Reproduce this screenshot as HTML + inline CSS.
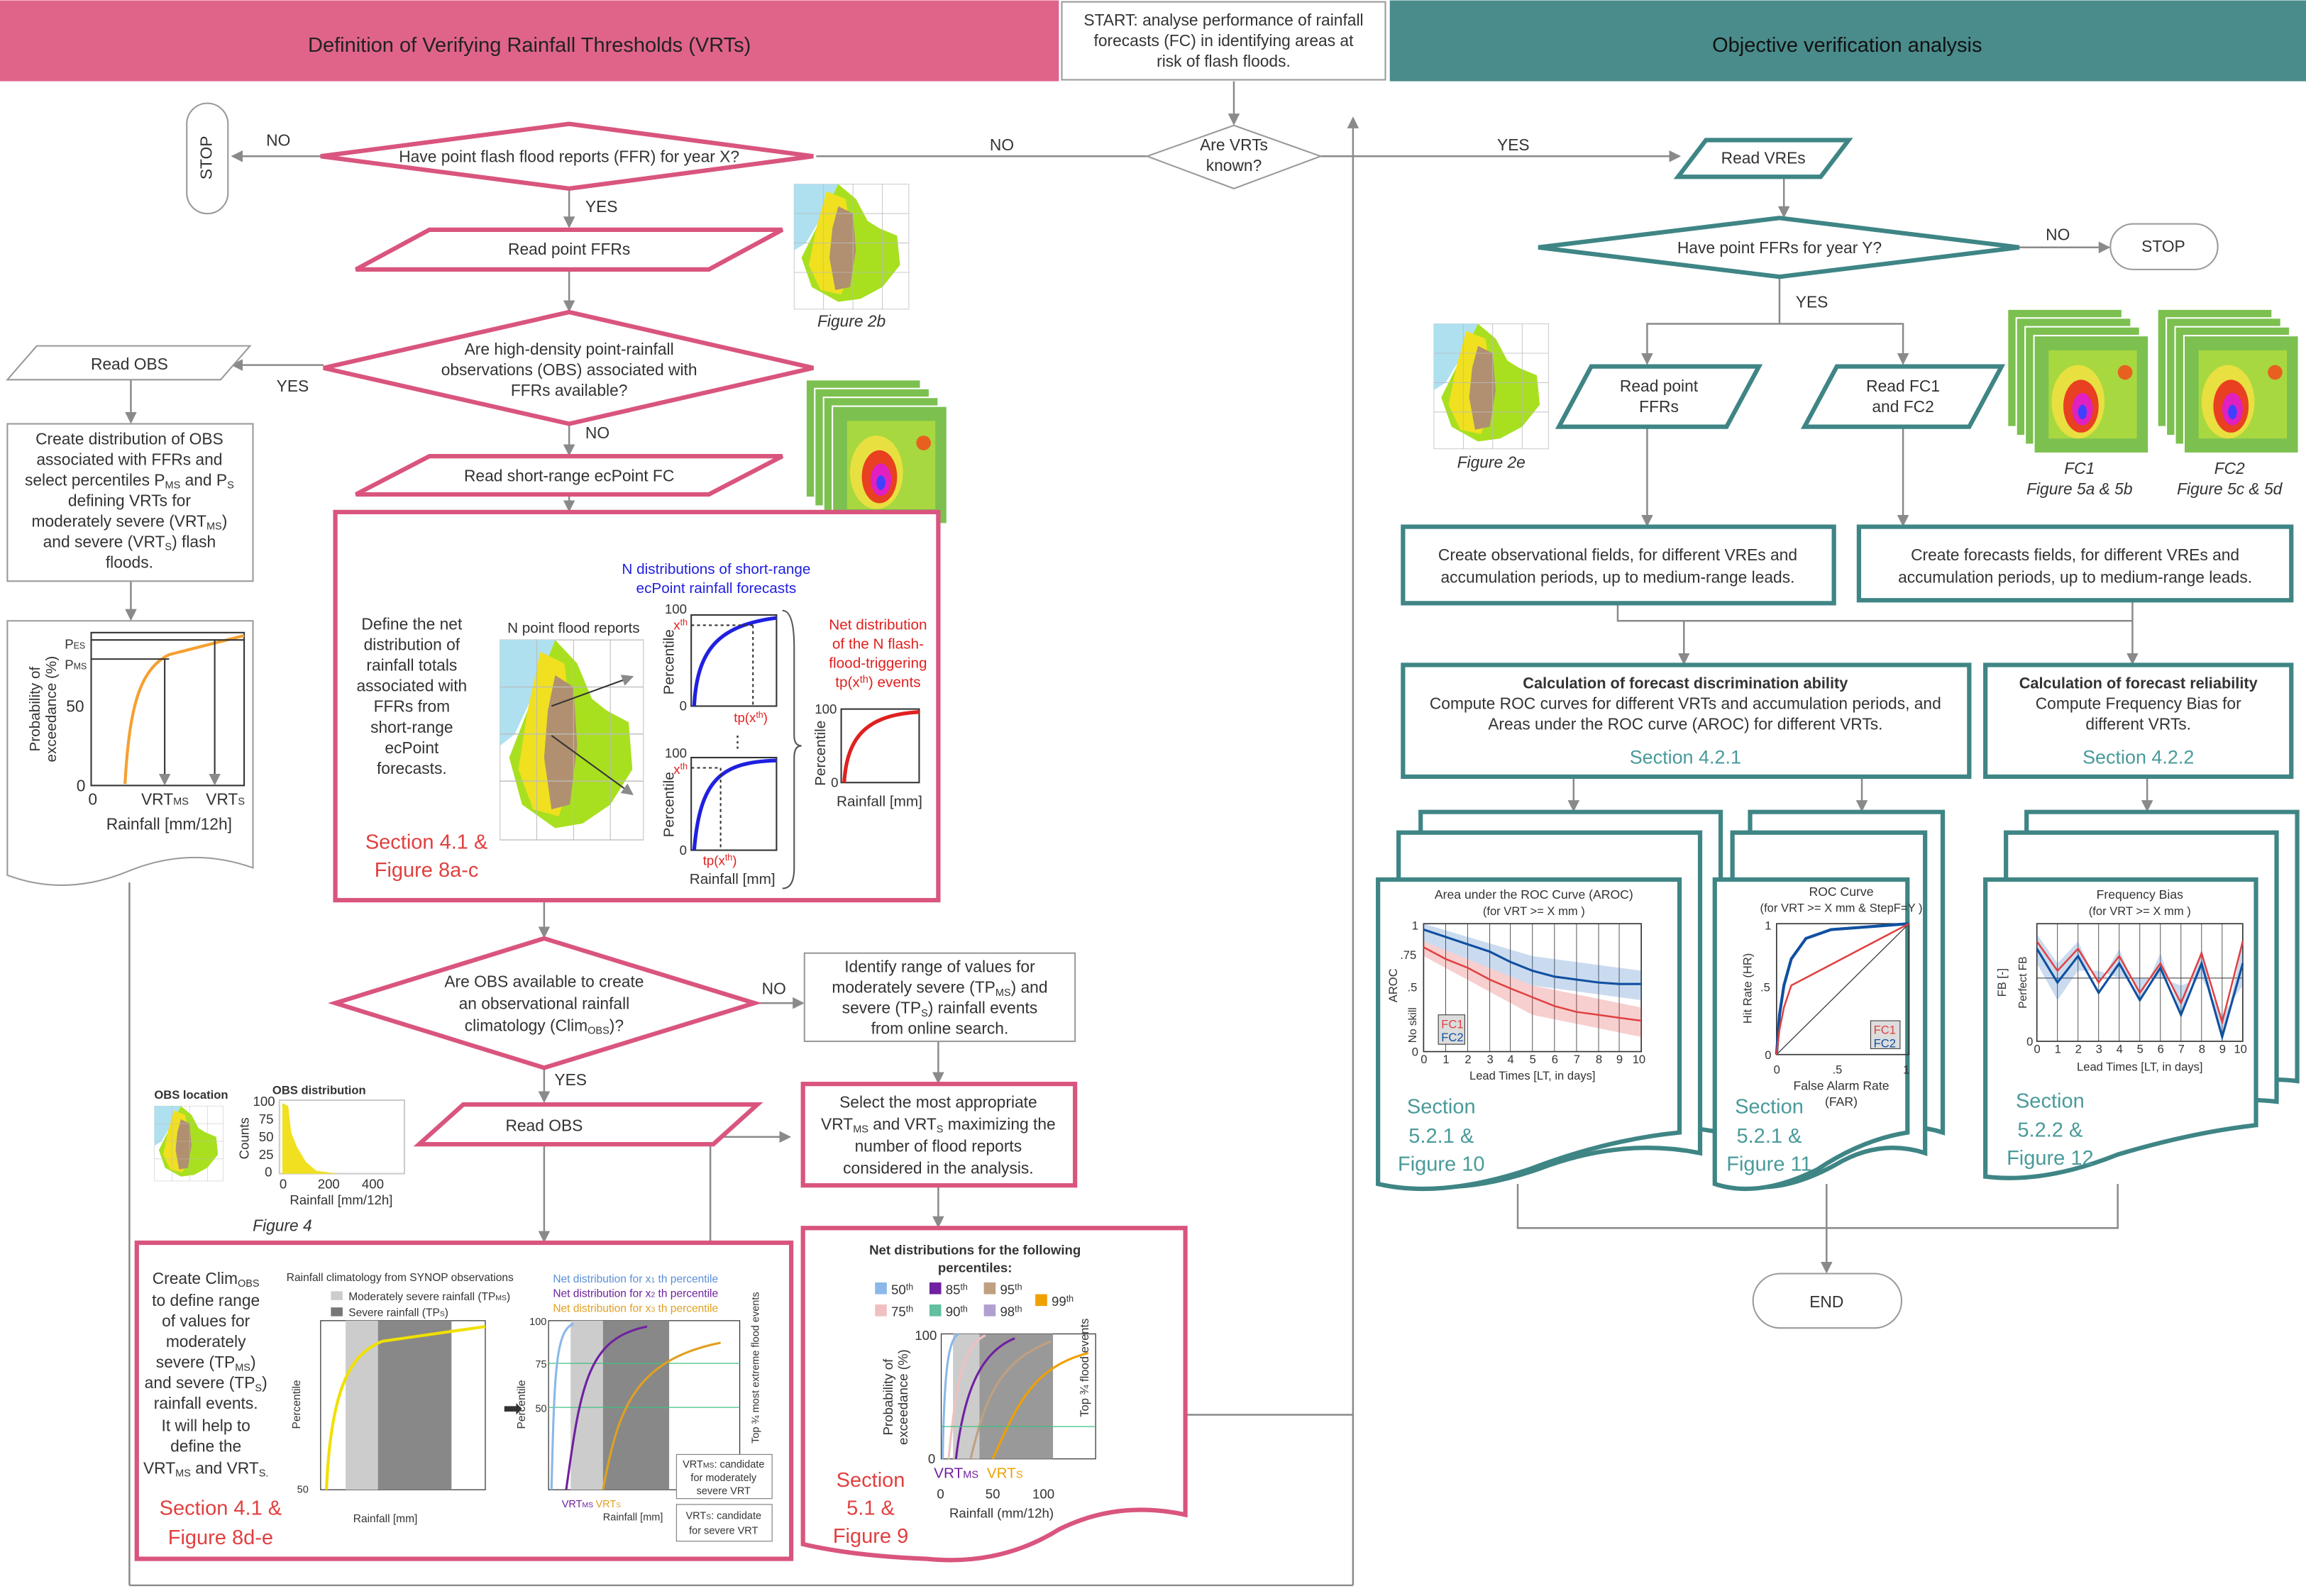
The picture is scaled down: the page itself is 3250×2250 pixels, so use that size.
<!DOCTYPE html>
<html><head><meta charset="utf-8"><style>
html,body{margin:0;padding:0;background:#fff;}
svg{display:block;font-family:"Liberation Sans",sans-serif;font-size:11px;}
</style></head><body>
<svg width="3250" height="2250" viewBox="0 0 1568 1085" xmlns="http://www.w3.org/2000/svg" font-size="11">
<defs>
<marker id="a" markerWidth="8" markerHeight="8" refX="7" refY="4" orient="auto" markerUnits="userSpaceOnUse"><path d="M0,0 L8,4 L0,8 z" fill="#8a8a8a"/></marker>
<g id="map">
<rect width="78" height="85" fill="#fff" stroke="#ccc" stroke-width="0.5"/>
<path d="M0,0 H30 L20,20 L8,40 L0,45 Z" fill="#aee0f0"/>
<path d="M30,0 L42,10 L50,25 L58,30 L70,35 L72,55 L60,70 L45,78 L30,80 L12,70 L5,50 L15,30 Z" fill="#a8e020"/>
<path d="M22,5 L35,10 L38,30 L40,55 L32,75 L18,72 L10,55 L15,30 Z" fill="#f0e020"/>
<path d="M30,15 L40,20 L42,45 L38,70 L28,72 L24,50 L26,30 Z" fill="#b09070"/>
<path d="M0,20 H78 M0,40 H78 M0,60 H78 M20,0 V85 M40,0 V85 M60,0 V85" stroke="#bbb" stroke-width="0.4"/>
</g>
<g id="fc">
<rect width="78" height="80" fill="#7cc050" stroke="#fff" stroke-width="1"/>
<rect x="10" y="10" width="60" height="60" fill="#a8d840"/>
<ellipse cx="30" cy="45" rx="18" ry="25" fill="#e8e040"/>
<ellipse cx="32" cy="48" rx="12" ry="18" fill="#e84020"/>
<ellipse cx="33" cy="50" rx="7" ry="11" fill="#e020c0"/>
<ellipse cx="33" cy="52" rx="3" ry="5" fill="#4040ff"/>
<circle cx="62" cy="25" r="5" fill="#e86020"/>
</g>
<g id="fcs">
<use href="#fc" x="0" y="0"/><use href="#fc" x="6" y="6"/><use href="#fc" x="12" y="12"/><use href="#fc" x="18" y="18"/>
</g>
</defs>
<style>
.t{fill:#333;}
.pk{fill:#fff;stroke:#d9557e;stroke-width:3;}
.tl{fill:#fff;stroke:#3f8585;stroke-width:3;}
.ln{stroke:#8a8a8a;stroke-width:1.2;fill:none;}
.gr{fill:#fff;stroke:#999;stroke-width:1;}
.c{text-anchor:middle;}
.red{fill:#e04040;}
.teal{fill:#4a9a9a;}
</style>

<!-- Header -->
<rect x="0" y="0" width="720" height="55" fill="#e0648a"/>
<text x="360" y="35" class="c" font-size="14" fill="#222">Definition of Verifying Rainfall Thresholds (VRTs)</text>
<rect x="722" y="1" width="220" height="53" class="gr"/>
<text class="t c" x="832" y="17">START: analyse performance of rainfall</text>
<text class="t c" x="832" y="31">forecasts (FC) in identifying areas at</text>
<text class="t c" x="832" y="45">risk of flash floods.</text>
<rect x="945" y="0" width="623" height="55" fill="#4a8b8b"/>
<text x="1256" y="35" class="c" font-size="14" fill="#111">Objective verification analysis</text>

<!-- Connectors -->
<line class="ln" x1="839" y1="55" x2="839" y2="84" marker-end="url(#a)"/>
<line class="ln" x1="780" y1="106" x2="555" y2="106"/>
<text class="t" x="673" y="102">NO</text>
<line class="ln" x1="218" y1="106" x2="158" y2="106" marker-end="url(#a)"/>
<text class="t" x="181" y="99">NO</text>
<line class="ln" x1="898" y1="106" x2="1142" y2="106" marker-end="url(#a)"/>
<text class="t" x="1018" y="102">YES</text>
<line class="ln" x1="920" y1="1078" x2="920" y2="80" marker-end="url(#a)"/>
<line class="ln" x1="806" y1="962" x2="920" y2="962"/>
<line class="ln" x1="88" y1="600" x2="88" y2="1078"/>
<line class="ln" x1="88" y1="1078" x2="920" y2="1078"/>
<line class="ln" x1="387" y1="128" x2="387" y2="154" marker-end="url(#a)"/>
<text class="t" x="398" y="144">YES</text>
<line class="ln" x1="387" y1="183" x2="387" y2="211" marker-end="url(#a)"/>
<line class="ln" x1="220" y1="248" x2="158" y2="248" marker-end="url(#a)"/>
<text class="t" x="188" y="266">YES</text>
<line class="ln" x1="387" y1="288" x2="387" y2="309" marker-end="url(#a)"/>
<text class="t" x="398" y="298">NO</text>
<line class="ln" x1="387" y1="336" x2="387" y2="347" marker-end="url(#a)"/>
<line class="ln" x1="89" y1="258" x2="89" y2="287" marker-end="url(#a)"/>
<line class="ln" x1="89" y1="395" x2="89" y2="421" marker-end="url(#a)"/>
<line class="ln" x1="370" y1="612" x2="370" y2="637" marker-end="url(#a)"/>
<line class="ln" x1="513" y1="682" x2="546" y2="682" marker-end="url(#a)"/>
<text class="t" x="518" y="676">NO</text>
<line class="ln" x1="370" y1="726" x2="370" y2="749" marker-end="url(#a)"/>
<text class="t" x="377" y="738">YES</text>
<line class="ln" x1="370" y1="778" x2="370" y2="844" marker-end="url(#a)"/>
<polyline class="ln" points="483,845 483,773 537,773" marker-end="url(#a)"/>
<line class="ln" x1="638" y1="708" x2="638" y2="736" marker-end="url(#a)"/>
<line class="ln" x1="638" y1="806" x2="638" y2="834" marker-end="url(#a)"/>

<line class="ln" x1="1213" y1="120" x2="1213" y2="147" marker-end="url(#a)"/>
<line class="ln" x1="1373" y1="168" x2="1434" y2="168" marker-end="url(#a)"/>
<text class="t" x="1391" y="163">NO</text>
<line class="ln" x1="1210" y1="188" x2="1210" y2="220"/>
<text class="t" x="1221" y="209">YES</text>
<polyline class="ln" points="1120,247 1120,220 1294,220 1294,247"/>
<line class="ln" x1="1120" y1="240" x2="1120" y2="247" marker-end="url(#a)"/>
<line class="ln" x1="1294" y1="240" x2="1294" y2="247" marker-end="url(#a)"/>
<line class="ln" x1="1120" y1="290" x2="1120" y2="357" marker-end="url(#a)"/>
<line class="ln" x1="1294" y1="290" x2="1294" y2="357" marker-end="url(#a)"/>
<polyline class="ln" points="1100,410 1100,422 1450,422"/>
<line class="ln" x1="1450" y1="408" x2="1450" y2="422"/>
<line class="ln" x1="1145" y1="422" x2="1145" y2="451" marker-end="url(#a)"/>
<line class="ln" x1="1450" y1="422" x2="1450" y2="451" marker-end="url(#a)"/>
<line class="ln" x1="1070" y1="528" x2="1070" y2="551" marker-end="url(#a)"/>
<line class="ln" x1="1266" y1="528" x2="1266" y2="551" marker-end="url(#a)"/>
<line class="ln" x1="1460" y1="528" x2="1460" y2="551" marker-end="url(#a)"/>
<polyline class="ln" points="1032,805 1032,835 1440,835 1440,805"/>
<line class="ln" x1="1242" y1="805" x2="1242" y2="865" marker-end="url(#a)"/>

<!-- Left decisions -->
<rect x="127" y="70" width="28" height="75" rx="14" class="gr"/>
<text class="t c" transform="translate(144,107) rotate(-90)">STOP</text>
<polygon class="pk" points="218,106 387,84 553,106 387,128"/>
<text class="t c" x="387" y="110">Have point flash flood reports (FFR) for year X?</text>
<polygon class="pk" points="242,183 292,156 532,156 482,183"/>
<text class="t c" x="387" y="173">Read point FFRs</text>
<use href="#map" x="540" y="125"/>
<text class="t c" x="579" y="222" font-style="italic">Figure 2b</text>
<polygon class="pk" points="220,250 387,212 553,250 387,288"/>
<text class="t c" x="387" y="241">Are high-density point-rainfall</text>
<text class="t c" x="387" y="255">observations (OBS) associated with</text>
<text class="t c" x="387" y="269">FFRs available?</text>
<polygon class="gr" points="5,258 25,235 170,235 150,258"/>
<text class="t c" x="88" y="251">Read OBS</text>
<polygon class="pk" points="242,336 292,310 532,310 482,336"/>
<text class="t c" x="387" y="327">Read short-range ecPoint FC</text>
<use href="#fcs" x="548" y="258"/>
<text class="t c" x="603" y="368" font-style="italic">Figure 5c &amp; 5d</text>

<rect x="5" y="288" width="167" height="107" class="gr"/>
<text class="t c" x="88" y="302">Create distribution of OBS</text>
<text class="t c" x="88" y="316">associated with FFRs and</text>
<text class="t c" x="88" y="330">select percentiles P<tspan font-size="7" dy="2">MS</tspan><tspan dy="-2"> and P</tspan><tspan font-size="7" dy="2">S</tspan></text>
<text class="t c" x="88" y="344">defining VRTs for</text>
<text class="t c" x="88" y="358">moderately severe (VRT<tspan font-size="7" dy="2">MS</tspan><tspan dy="-2">)</tspan></text>
<text class="t c" x="88" y="372">and severe (VRT<tspan font-size="7" dy="2">S</tspan><tspan dy="-2">) flash</tspan></text>
<text class="t c" x="88" y="386">floods.</text>

<path class="gr" d="M5,422 H172 V590 Q130,575 88,592 Q45,610 5,595 Z"/>
<rect x="62" y="430" width="104" height="104" fill="none" stroke="#333"/>
<path d="M85,533 C88,480 95,455 115,445 L166,432" stroke="#f5a030" stroke-width="2" fill="none"/>
<polyline points="62,435 166,435" stroke="#333"/>
<line x1="62" y1="448" x2="115" y2="448" stroke="#333"/>
<line x1="112" y1="448" x2="112" y2="533" stroke="#333" marker-end="url(#a)"/>
<line x1="146" y1="435" x2="146" y2="533" stroke="#333" marker-end="url(#a)"/>
<text class="t" x="44" y="441" font-size="9">P<tspan font-size="6">ES</tspan></text>
<text class="t" x="44" y="455" font-size="9">P<tspan font-size="6">MS</tspan></text>
<text class="t" x="45" y="484">50</text>
<text class="t" x="52" y="538">0</text>
<text class="t" x="60" y="547">0</text>
<text class="t" x="96" y="547">VRT<tspan font-size="7">MS</tspan></text>
<text class="t" x="140" y="547">VRT<tspan font-size="7">S</tspan></text>
<text class="t c" x="115" y="564">Rainfall [mm/12h]</text>
<text class="t c" transform="translate(27,482) rotate(-90)" font-size="10">Probability of</text>
<text class="t c" transform="translate(38,482) rotate(-90)" font-size="10">exceedance (%)</text>

<!-- big pink box -->
<rect x="228" y="348" width="410" height="264" class="pk"/>
<text class="t c" x="280" y="428">Define the net</text>
<text class="t c" x="280" y="442">distribution of</text>
<text class="t c" x="280" y="456">rainfall totals</text>
<text class="t c" x="280" y="470">associated with</text>
<text class="t c" x="280" y="484">FFRs from</text>
<text class="t c" x="280" y="498">short-range</text>
<text class="t c" x="280" y="512">ecPoint</text>
<text class="t c" x="280" y="526">forecasts.</text>
<text x="290" y="577" class="c red" font-size="14">Section 4.1 &amp;</text>
<text x="290" y="596" class="c red" font-size="14">Figure 8a-c</text>
<text class="t c" x="390" y="430" font-size="10">N point flood reports</text>
<use href="#map" transform="translate(340,435) scale(1.25,1.6)"/>
<line x1="375" y1="480" x2="430" y2="460" stroke="#333" marker-end="url(#a)"/>
<line x1="375" y1="500" x2="430" y2="540" stroke="#333" marker-end="url(#a)"/>
<text x="487" y="390" class="c" font-size="10" fill="#2020e0">N distributions of short-range</text>
<text x="487" y="403" class="c" font-size="10" fill="#2020e0">ecPoint rainfall forecasts</text>
<rect x="470" y="418" width="58" height="62" fill="none" stroke="#333"/>
<path d="M472,480 C474,440 490,425 528,420" stroke="#2020e0" stroke-width="2.5" fill="none"/>
<line x1="470" y1="425" x2="512" y2="425" stroke="#333" stroke-dasharray="2,2"/>
<line x1="512" y1="425" x2="512" y2="480" stroke="#333" stroke-dasharray="2,2"/>
<text x="458" y="428" font-size="9" fill="#e02020">x<tspan font-size="6" dy="-3">th</tspan></text>
<text class="t" x="452" y="417" font-size="9">100</text>
<text class="t" x="462" y="483" font-size="9">0</text>
<text x="499" y="491" font-size="9" fill="#e02020">tp(x<tspan font-size="6" dy="-3">th</tspan><tspan dy="3">)</tspan></text>
<text class="t c" transform="translate(458,450) rotate(-90)" font-size="10">Percentile</text>
<text class="t" x="496" y="508">⋮</text>
<rect x="470" y="515" width="58" height="63" fill="none" stroke="#333"/>
<path d="M472,578 C476,530 490,518 528,517" stroke="#2020e0" stroke-width="2.5" fill="none"/>
<line x1="470" y1="522" x2="490" y2="522" stroke="#333" stroke-dasharray="2,2"/>
<line x1="490" y1="522" x2="490" y2="578" stroke="#333" stroke-dasharray="2,2"/>
<text x="458" y="526" font-size="9" fill="#e02020">x<tspan font-size="6" dy="-3">th</tspan></text>
<text class="t" x="452" y="515" font-size="9">100</text>
<text class="t" x="462" y="581" font-size="9">0</text>
<text x="478" y="588" font-size="9" fill="#e02020">tp(x<tspan font-size="6" dy="-3">th</tspan><tspan dy="3">)</tspan></text>
<text class="t c" transform="translate(458,547) rotate(-90)" font-size="10">Percentile</text>
<text class="t c" x="498" y="601" font-size="10">Rainfall [mm]</text>
<path d="M532,415 Q540,415 540,440 V500 Q540,507 545,507 Q540,507 540,515 V590 Q540,604 532,604" stroke="#555" fill="none"/>
<text x="597" y="428" class="c" font-size="10" fill="#e02020">Net distribution</text>
<text x="597" y="441" class="c" font-size="10" fill="#e02020">of the N flash-</text>
<text x="597" y="454" class="c" font-size="10" fill="#e02020">flood-triggering</text>
<text x="597" y="467" class="c" font-size="10" fill="#e02020">tp(x<tspan font-size="7" dy="-3">th</tspan><tspan dy="3">) events</tspan></text>
<rect x="572" y="482" width="53" height="50" fill="none" stroke="#333"/>
<path d="M574,532 C576,500 590,486 625,484" stroke="#e02020" stroke-width="2.5" fill="none"/>
<text class="t" x="554" y="485" font-size="9">100</text>
<text class="t" x="565" y="535" font-size="9">0</text>
<text class="t c" transform="translate(561,512) rotate(-90)" font-size="10">Percentile</text>
<text class="t c" x="598" y="548" font-size="10">Rainfall [mm]</text>

<polygon class="pk" points="228,682 370,638 513,682 370,726"/>
<text class="t c" x="370" y="671">Are OBS available to create</text>
<text class="t c" x="370" y="686">an observational rainfall</text>
<text class="t c" x="370" y="701">climatology (Clim<tspan font-size="7" dy="2">OBS</tspan><tspan dy="-2">)?</tspan></text>
<rect x="547" y="648" width="184" height="60" class="gr"/>
<text class="t c" x="639" y="661">Identify range of values for</text>
<text class="t c" x="639" y="675">moderately severe (TP<tspan font-size="7" dy="2">MS</tspan><tspan dy="-2">) and</tspan></text>
<text class="t c" x="639" y="689">severe (TP<tspan font-size="7" dy="2">S</tspan><tspan dy="-2">) rainfall events</tspan></text>
<text class="t c" x="639" y="703">from online search.</text>
<polygon class="pk" points="285,778 315,751 515,751 485,778"/>
<text class="t c" x="370" y="769">Read OBS</text>
<rect x="546" y="737" width="185" height="69" class="pk"/>
<text class="t c" x="638" y="753">Select the most appropriate</text>
<text class="t c" x="638" y="768">VRT<tspan font-size="7" dy="2">MS</tspan><tspan dy="-2"> and VRT</tspan><tspan font-size="7" dy="2">S</tspan><tspan dy="-2"> maximizing the</tspan></text>
<text class="t c" x="638" y="783">number of flood reports</text>
<text class="t c" x="638" y="798">considered in the analysis.</text>

<!-- OBS figure -->
<text class="t c" x="130" y="747" font-size="8" font-weight="bold">OBS location</text>
<use href="#map" transform="translate(105,752) scale(0.6,0.6)"/>
<text class="t c" x="217" y="744" font-size="8" font-weight="bold">OBS distribution</text>
<rect x="190" y="748" width="85" height="50" fill="none" stroke="#ccc"/>
<path d="M192,798 V750 L196,752 L198,770 L202,780 L208,790 L215,796 L230,798 Z" fill="#f0e020"/>
<text class="t" x="172" y="752" font-size="9">100</text>
<text class="t" x="176" y="764" font-size="9">75</text>
<text class="t" x="176" y="776" font-size="9">50</text>
<text class="t" x="176" y="788" font-size="9">25</text>
<text class="t" x="180" y="800" font-size="9">0</text>
<text class="t" x="190" y="808" font-size="9">0</text>
<text class="t" x="216" y="808" font-size="9">200</text>
<text class="t" x="246" y="808" font-size="9">400</text>
<text class="t c" x="232" y="819" font-size="9">Rainfall [mm/12h]</text>
<text class="t c" transform="translate(169,774) rotate(-90)" font-size="9">Counts</text>
<text class="t c" x="192" y="837" font-style="italic">Figure 4</text>

<!-- bottom left box -->
<rect x="93" y="845" width="445" height="215" class="pk"/>
<text class="t c" x="140" y="873">Create Clim<tspan font-size="7" dy="2">OBS</tspan></text>
<text class="t c" x="140" y="888">to define range</text>
<text class="t c" x="140" y="902">of values for</text>
<text class="t c" x="140" y="916">moderately</text>
<text class="t c" x="140" y="930">severe (TP<tspan font-size="7" dy="2">MS</tspan><tspan dy="-2">)</tspan></text>
<text class="t c" x="140" y="944">and severe (TP<tspan font-size="7" dy="2">S</tspan><tspan dy="-2">)</tspan></text>
<text class="t c" x="140" y="958">rainfall events.</text>
<text class="t c" x="140" y="973">It will help to</text>
<text class="t c" x="140" y="987">define the</text>
<text class="t c" x="140" y="1002">VRT<tspan font-size="7" dy="2">MS</tspan><tspan dy="-2"> and VRT</tspan><tspan font-size="7" dy="2">S.</tspan></text>
<text x="150" y="1030" class="c red" font-size="14">Section 4.1 &amp;</text>
<text x="150" y="1050" class="c red" font-size="14">Figure 8d-e</text>
<text class="t c" x="272" y="871" font-size="7.5">Rainfall climatology from SYNOP observations</text>
<rect x="225" y="878" width="8" height="6" fill="#ccc"/><text class="t" x="237" y="884" font-size="7.5">Moderately severe rainfall (TP<tspan font-size="5">MS</tspan>)</text>
<rect x="225" y="889" width="8" height="6" fill="#777"/><text class="t" x="237" y="895" font-size="7.5">Severe rainfall (TP<tspan font-size="5">S</tspan>)</text>
<rect x="218" y="898" width="112" height="115" fill="none" stroke="#333" stroke-width="0.6"/>
<rect x="235" y="898" width="22" height="115" fill="#ccc"/>
<rect x="257" y="898" width="50" height="115" fill="#888"/>
<path d="M222,1013 C225,940 240,920 260,912 L330,902" stroke="#f0e000" stroke-width="2" fill="none"/>
<text class="t" x="202" y="1015" font-size="7">50</text>
<text class="t c" x="262" y="1035" font-size="7.5">Rainfall [mm]</text>
<text class="t c" transform="translate(204,955) rotate(-90)" font-size="7.5">Percentile</text>
<text x="342" y="963" font-size="16" fill="#333">➡</text>
<text x="376" y="872" font-size="7.5" fill="#5b8fd8">Net distribution for x<tspan font-size="5">1</tspan> th percentile</text>
<text x="376" y="882" font-size="7.5" fill="#7020a0">Net distribution for x<tspan font-size="5">2</tspan> th percentile</text>
<text x="376" y="892" font-size="7.5" fill="#e0a020">Net distribution for x<tspan font-size="5">3</tspan> th percentile</text>
<rect x="373" y="898" width="130" height="115" fill="none" stroke="#333" stroke-width="0.6"/>
<rect x="388" y="898" width="22" height="115" fill="#ccc"/>
<rect x="410" y="898" width="45" height="115" fill="#888"/>
<line x1="373" y1="927" x2="503" y2="927" stroke="#40c080" stroke-width="0.6"/>
<line x1="373" y1="957" x2="503" y2="957" stroke="#40c080" stroke-width="0.6"/>
<path d="M375,1013 C377,930 378,905 390,900" stroke="#8ab8e8" stroke-width="1.5" fill="none"/>
<path d="M385,1013 C395,940 400,910 440,902" stroke="#7020a0" stroke-width="1.5" fill="none"/>
<path d="M410,1013 C420,960 430,925 490,913" stroke="#e0a020" stroke-width="1.5" fill="none"/>
<text class="t" x="360" y="901" font-size="7">100</text>
<text class="t" x="364" y="930" font-size="7">75</text>
<text class="t" x="364" y="960" font-size="7">50</text>
<text class="t c" transform="translate(357,955) rotate(-90)" font-size="7.5">Percentile</text>
<text class="t c" transform="translate(516,930) rotate(-90)" font-size="7">Top ¾ most extreme flood events</text>
<rect x="460" y="989" width="65" height="30" fill="#fff" stroke="#888" stroke-width="0.6"/>
<text class="t c" x="492" y="998" font-size="7">VRT<tspan font-size="5">MS</tspan>: candidate</text>
<text class="t c" x="492" y="1007" font-size="7">for moderately</text>
<text class="t c" x="492" y="1016" font-size="7">severe VRT</text>
<rect x="460" y="1023" width="65" height="25" fill="#fff" stroke="#888" stroke-width="0.6"/>
<text class="t c" x="492" y="1033" font-size="7">VRT<tspan font-size="5">S</tspan>: candidate</text>
<text class="t c" x="492" y="1043" font-size="7">for severe VRT</text>
<text x="382" y="1025" font-size="7" fill="#7020a0">VRT<tspan font-size="5">MS</tspan></text>
<text x="405" y="1025" font-size="7" fill="#e0a020">VRT<tspan font-size="5">S</tspan></text>
<text class="t" x="410" y="1034" font-size="7">Rainfall [mm]</text>

<!-- net distributions doc -->
<path class="pk" d="M546,835 H806 V1030 Q760,1020 720,1040 Q680,1065 630,1060 Q580,1058 546,1050 Z"/>
<text class="t c" x="663" y="853" font-size="9" font-weight="bold">Net distributions for the following</text>
<text class="t c" x="663" y="865" font-size="9" font-weight="bold">percentiles:</text>
<g font-size="9" fill="#333">
<rect x="595" y="872" width="8" height="8" fill="#8ab8e8"/><text x="606" y="880">50<tspan font-size="6" dy="-3">th</tspan></text>
<rect x="632" y="872" width="8" height="8" fill="#7020a0"/><text x="643" y="880">85<tspan font-size="6" dy="-3">th</tspan></text>
<rect x="669" y="872" width="8" height="8" fill="#c0a080"/><text x="680" y="880">95<tspan font-size="6" dy="-3">th</tspan></text>
<rect x="595" y="887" width="8" height="8" fill="#f0c0c0"/><text x="606" y="895">75<tspan font-size="6" dy="-3">th</tspan></text>
<rect x="632" y="887" width="8" height="8" fill="#60c0a0"/><text x="643" y="895">90<tspan font-size="6" dy="-3">th</tspan></text>
<rect x="669" y="887" width="8" height="8" fill="#b0a0d0"/><text x="680" y="895">98<tspan font-size="6" dy="-3">th</tspan></text>
<rect x="704" y="880" width="8" height="8" fill="#f0a000"/><text x="715" y="888">99<tspan font-size="6" dy="-3">th</tspan></text>
</g>
<rect x="640" y="907" width="105" height="85" fill="none" stroke="#333" stroke-width="0.6"/>
<rect x="648" y="907" width="18" height="85" fill="#ccc"/>
<rect x="666" y="907" width="50" height="85" fill="#999"/>
<path d="M641,992 C642,930 645,910 652,907" stroke="#8ab8e8" stroke-width="1.5" fill="none"/>
<path d="M645,992 C650,940 655,915 670,908" stroke="#f0c0c0" stroke-width="1.5" fill="none"/>
<path d="M650,992 C655,950 665,920 690,910" stroke="#7020a0" stroke-width="1.5" fill="none"/>
<path d="M660,992 C670,950 680,925 715,912" stroke="#c0a080" stroke-width="1.5" fill="none"/>
<path d="M675,992 C690,960 700,930 740,920" stroke="#f0a000" stroke-width="1.5" fill="none"/>
<line x1="640" y1="970" x2="745" y2="970" stroke="#40c080" stroke-width="0.6"/>
<text class="t" x="622" y="911" font-size="9">100</text>
<text class="t" x="631" y="995" font-size="9">0</text>
<text class="t c" transform="translate(607,950) rotate(-90)" font-size="9">Probability of</text>
<text class="t c" transform="translate(617,950) rotate(-90)" font-size="9">exceedance (%)</text>
<text class="t c" transform="translate(740,930) rotate(-90)" font-size="8">Top ¾ flood events</text>
<text x="635" y="1005" font-size="10" fill="#7020a0">VRT<tspan font-size="7">MS</tspan></text>
<text x="671" y="1005" font-size="10" fill="#f0a000">VRT<tspan font-size="7">S</tspan></text>
<text class="t" x="637" y="1019" font-size="9">0</text>
<text class="t" x="670" y="1019" font-size="9">50</text>
<text class="t" x="702" y="1019" font-size="9">100</text>
<text class="t c" x="681" y="1032" font-size="9">Rainfall (mm/12h)</text>
<text x="592" y="1011" class="c red" font-size="14">Section</text>
<text x="592" y="1030" class="c red" font-size="14">5.1 &amp;</text>
<text x="592" y="1049" class="c red" font-size="14">Figure 9</text>

<!-- Right side -->
<polygon points="780,106 839,85 898,106 839,128" class="gr"/>
<text class="t c" x="839" y="102">Are VRTs</text>
<text class="t c" x="839" y="116">known?</text>
<polygon class="tl" points="1141,120 1160,95 1257,95 1238,120"/>
<text class="t c" x="1199" y="111">Read VREs</text>
<polygon class="tl" points="1046,168 1210,148 1373,168 1210,188"/>
<text class="t c" x="1210" y="172">Have point FFRs for year Y?</text>
<rect x="1435" y="152" width="73" height="31" rx="15.5" class="gr"/>
<text class="t c" x="1471" y="171">STOP</text>
<use href="#map" x="975" y="220"/>
<text class="t c" x="1014" y="318" font-style="italic">Figure 2e</text>
<polygon class="tl" points="1060,290 1082,249 1196,249 1174,290"/>
<text class="t c" x="1128" y="266">Read point</text>
<text class="t c" x="1128" y="280">FFRs</text>
<polygon class="tl" points="1227,290 1249,249 1361,249 1339,290"/>
<text class="t c" x="1294" y="266">Read FC1</text>
<text class="t c" x="1294" y="280">and FC2</text>
<use href="#fcs" x="1365" y="210"/>
<use href="#fcs" x="1467" y="210"/>
<text class="t c" x="1414" y="322" font-style="italic">FC1</text>
<text class="t c" x="1414" y="336" font-style="italic">Figure 5a &amp; 5b</text>
<text class="t c" x="1516" y="322" font-style="italic">FC2</text>
<text class="t c" x="1516" y="336" font-style="italic">Figure 5c &amp; 5d</text>

<rect class="tl" x="954" y="358" width="293" height="52"/>
<text class="t c" x="1100" y="381">Create observational fields, for different VREs and</text>
<text class="t c" x="1100" y="396">accumulation periods, up to medium-range leads.</text>
<rect class="tl" x="1264" y="358" width="294" height="50"/>
<text class="t c" x="1411" y="381">Create forecasts fields, for different VREs and</text>
<text class="t c" x="1411" y="396">accumulation periods, up to medium-range leads.</text>
<rect class="tl" x="954" y="452" width="385" height="76"/>
<text class="t c" x="1146" y="468" font-weight="bold" font-size="10.5">Calculation of forecast discrimination ability</text>
<text class="t c" x="1146" y="482">Compute ROC curves for different VRTs and accumulation periods, and</text>
<text class="t c" x="1146" y="496">Areas under the ROC curve (AROC) for different VRTs.</text>
<text x="1146" y="519" class="c teal" font-size="13">Section 4.2.1</text>
<rect class="tl" x="1350" y="452" width="208" height="76"/>
<text class="t c" x="1454" y="468" font-weight="bold" font-size="10.5">Calculation of forecast reliability</text>
<text class="t c" x="1454" y="482">Compute Frequency Bias for</text>
<text class="t c" x="1454" y="496">different VRTs.</text>
<text x="1454" y="519" class="c teal" font-size="13">Section 4.2.2</text>

<!-- docs -->
<path class="tl" d="M966,552 H1170 V770 Q1120,760 1068,778 Q1010,800 966,790 Z"/>
<path class="tl" d="M951,566 H1156 V784 Q1106,774 1054,792 Q996,814 951,804 Z"/>
<path class="tl" d="M937,598 H1142 V770 Q1092,775 1040,795 Q980,815 937,805 Z"/>
<path class="tl" d="M1190,552 H1321 V770 Q1290,760 1260,778 Q1220,800 1190,790 Z"/>
<path class="tl" d="M1178,566 H1309 V784 Q1278,774 1248,792 Q1208,814 1178,804 Z"/>
<path class="tl" d="M1166,598 H1297 V770 Q1266,775 1236,795 Q1196,815 1166,805 Z"/>
<path class="tl" d="M1378,552 H1562 V735 Q1520,730 1470,750 Q1410,775 1378,770 Z"/>
<path class="tl" d="M1364,566 H1548 V749 Q1506,744 1456,764 Q1396,789 1364,784 Z"/>
<path class="tl" d="M1350,598 H1534 V765 Q1490,770 1440,785 Q1390,805 1350,800 Z"/>

<!-- AROC chart -->
<text class="t c" x="1043" y="611" font-size="8.5">Area under the ROC Curve (AROC)</text>
<text class="t c" x="1043" y="622" font-size="8">(for VRT &gt;= X mm )</text>
<rect x="968" y="628" width="148" height="87" fill="none" stroke="#333" stroke-width="0.8"/>
<g stroke="#333" stroke-width="0.4">
<line x1="983" y1="628" x2="983" y2="715"/><line x1="998" y1="628" x2="998" y2="715"/><line x1="1013" y1="628" x2="1013" y2="715"/><line x1="1027" y1="628" x2="1027" y2="715"/><line x1="1042" y1="628" x2="1042" y2="715"/><line x1="1057" y1="628" x2="1057" y2="715"/><line x1="1072" y1="628" x2="1072" y2="715"/><line x1="1087" y1="628" x2="1087" y2="715"/><line x1="1101" y1="628" x2="1101" y2="715"/>
</g>
<path d="M968,628 L1042,650 L1116,660 L1116,680 L1042,670 L968,640 Z" fill="#3070c0" opacity="0.25"/>
<path d="M968,640 L1042,670 L1116,685 L1116,705 L1042,690 L968,650 Z" fill="#e04040" opacity="0.25"/>
<polyline points="968,632 983,637 998,642 1013,647 1027,654 1042,660 1057,664 1072,666 1087,668 1101,669 1116,669" stroke="#1050a0" stroke-width="1.5" fill="none"/>
<polyline points="968,644 983,652 998,658 1013,666 1027,672 1042,678 1057,684 1072,688 1087,690 1101,692 1116,694" stroke="#e04040" stroke-width="1.2" fill="none"/>
<rect x="978" y="690" width="18" height="20" fill="#ddd" stroke="#333" stroke-width="0.5"/>
<text x="980" y="699" font-size="8" fill="#e04040">FC1</text><text x="980" y="708" font-size="8" fill="#1050a0">FC2</text>
<g class="t" font-size="8"><text x="960" y="632">1</text><text x="952" y="652">.75</text><text x="957" y="674">.5</text><text x="960" y="718">0</text>
<text x="966" y="723">0</text><text x="981" y="723">1</text><text x="996" y="723">2</text><text x="1011" y="723">3</text><text x="1025" y="723">4</text><text x="1040" y="723">5</text><text x="1055" y="723">6</text><text x="1070" y="723">7</text><text x="1085" y="723">8</text><text x="1099" y="723">9</text><text x="1110" y="723">10</text></g>
<text class="t c" x="1042" y="734" font-size="8">Lead Times [LT, in days]</text>
<text class="t c" transform="translate(950,670) rotate(-90)" font-size="8">AROC</text>
<text class="t c" transform="translate(963,697) rotate(-90)" font-size="7.5">No skill</text>
<text x="980" y="757" class="teal" font-size="14" text-anchor="middle">Section</text>
<text x="980" y="777" class="teal" font-size="14" text-anchor="middle">5.2.1 &amp;</text>
<text x="980" y="796" class="teal" font-size="14" text-anchor="middle">Figure 10</text>

<!-- ROC chart -->
<text class="t c" x="1252" y="609" font-size="8.5">ROC Curve</text>
<text class="t c" x="1252" y="620" font-size="8">(for VRT &gt;= X mm &amp; StepF=Y )</text>
<rect x="1208" y="628" width="90" height="89" fill="none" stroke="#333" stroke-width="0.8"/>
<line x1="1208" y1="717" x2="1298" y2="628" stroke="#333" stroke-width="0.6"/>
<polyline points="1208,717 1210,690 1213,670 1218,652 1228,638 1245,632 1298,628" stroke="#1050a0" stroke-width="2" fill="none"/>
<polyline points="1208,717 1210,700 1213,685 1218,670 1298,628" stroke="#e04040" stroke-width="1.2" fill="none"/>
<rect x="1272" y="694" width="20" height="19" fill="#ddd" stroke="#333" stroke-width="0.5"/>
<text x="1274" y="703" font-size="8" fill="#e04040">FC1</text><text x="1274" y="712" font-size="8" fill="#1050a0">FC2</text>
<g class="t" font-size="8"><text x="1200" y="632">1</text><text x="1197" y="674">.5</text><text x="1200" y="720">0</text><text x="1206" y="730">0</text><text x="1246" y="730">.5</text><text x="1294" y="730">1</text></g>
<text class="t c" x="1252" y="741" font-size="8.5">False Alarm Rate</text>
<text class="t c" x="1252" y="752" font-size="8.5">(FAR)</text>
<text class="t c" transform="translate(1191,672) rotate(-90)" font-size="8">Hit Rate (HR)</text>
<text x="1203" y="757" class="teal" font-size="14" text-anchor="middle">Section</text>
<text x="1203" y="777" class="teal" font-size="14" text-anchor="middle">5.2.1 &amp;</text>
<text x="1203" y="796" class="teal" font-size="14" text-anchor="middle">Figure 11</text>

<!-- FB chart -->
<text class="t c" x="1455" y="611" font-size="8.5">Frequency Bias</text>
<text class="t c" x="1455" y="622" font-size="8">(for VRT &gt;= X mm )</text>
<rect x="1385" y="628" width="140" height="80" fill="none" stroke="#333" stroke-width="0.8"/>
<g stroke="#333" stroke-width="0.4">
<line x1="1399" y1="628" x2="1399" y2="708"/><line x1="1413" y1="628" x2="1413" y2="708"/><line x1="1427" y1="628" x2="1427" y2="708"/><line x1="1441" y1="628" x2="1441" y2="708"/><line x1="1455" y1="628" x2="1455" y2="708"/><line x1="1469" y1="628" x2="1469" y2="708"/><line x1="1483" y1="628" x2="1483" y2="708"/><line x1="1497" y1="628" x2="1497" y2="708"/><line x1="1511" y1="628" x2="1511" y2="708"/>
</g>
<line x1="1385" y1="665" x2="1525" y2="665" stroke="#333" stroke-width="0.5"/>
<path d="M1385,635 L1399,655 L1413,640 L1427,670 L1441,645 L1455,680 L1469,648 L1483,690 L1497,645 L1511,708 L1525,640 L1525,670 L1511,690 L1497,665 L1483,670 L1469,665 L1455,665 L1441,665 L1427,660 L1413,660 L1399,680 L1385,655 Z" fill="#3070c0" opacity="0.25"/>
<polyline points="1385,645 1399,668 1413,650 1427,675 1441,655 1455,680 1469,658 1483,690 1497,655 1511,705 1525,655" stroke="#1050a0" stroke-width="1.5" fill="none"/>
<polyline points="1385,640 1399,660 1413,645 1427,668 1441,650 1455,675 1469,655 1483,682 1497,648 1511,695 1525,640" stroke="#e04040" stroke-width="1.2" fill="none"/>
<g class="t" font-size="8"><text x="1378" y="711">0</text>
<text x="1383" y="716">0</text><text x="1397" y="716">1</text><text x="1411" y="716">2</text><text x="1425" y="716">3</text><text x="1439" y="716">4</text><text x="1453" y="716">5</text><text x="1467" y="716">6</text><text x="1481" y="716">7</text><text x="1495" y="716">8</text><text x="1509" y="716">9</text><text x="1519" y="716">10</text></g>
<text class="t c" x="1455" y="728" font-size="8">Lead Times [LT, in days]</text>
<text class="t c" transform="translate(1364,668) rotate(-90)" font-size="8">FB [-]</text>
<text class="t c" transform="translate(1378,668) rotate(-90)" font-size="7.5">Perfect FB</text>
<text x="1394" y="753" class="teal" font-size="14" text-anchor="middle">Section</text>
<text x="1394" y="773" class="teal" font-size="14" text-anchor="middle">5.2.2 &amp;</text>
<text x="1394" y="792" class="teal" font-size="14" text-anchor="middle">Figure 12</text>

<rect x="1192" y="866" width="101" height="37" rx="18.5" class="gr"/>
<text class="t c" x="1242" y="889">END</text>
</svg>
</body></html>
